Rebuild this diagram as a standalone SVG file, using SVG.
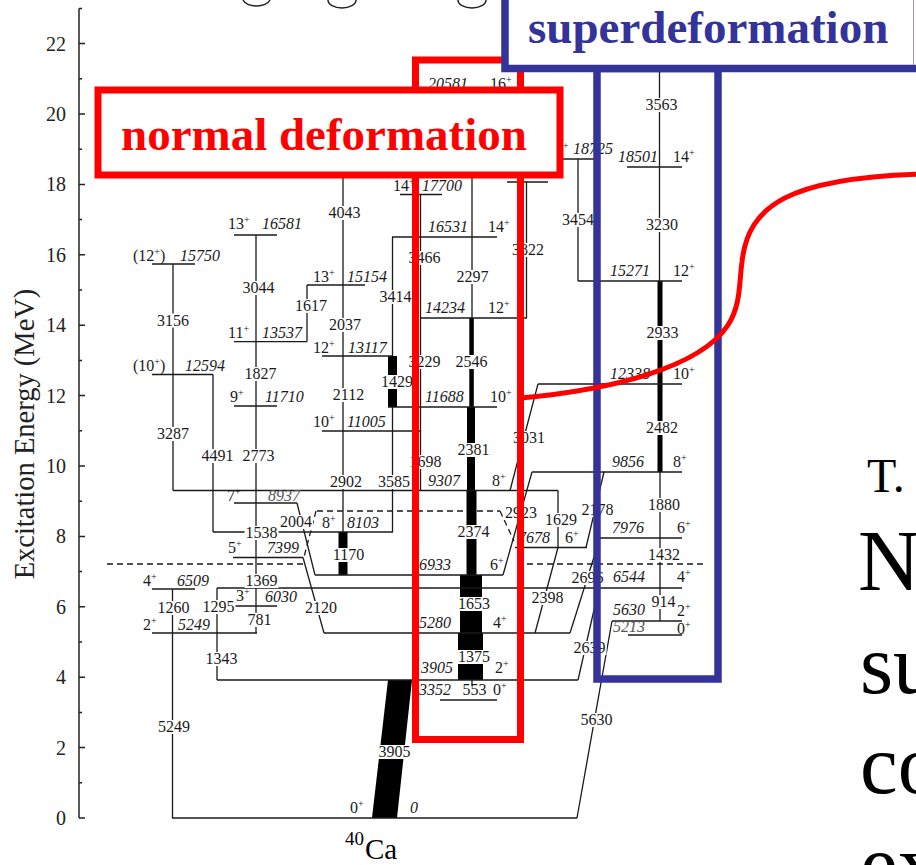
<svg xmlns="http://www.w3.org/2000/svg" width="916" height="865" viewBox="0 0 916 865">
<style>
.ax{stroke:#222;stroke-width:1.5;fill:none}
.lv{stroke:#1a1a1a;stroke-width:1.3;fill:none}
.tr{stroke:#1a1a1a;stroke-width:1.3;fill:none}
.da{stroke:#1a1a1a;stroke-width:1.3;fill:none;stroke-dasharray:6 4}
.bar{fill:#000}
.t{font-family:"Liberation Serif","Times New Roman",serif;font-size:16px;fill:#1a1a1a}
.i{font-style:italic}
.g{fill:#555}
.m{text-anchor:middle}
.p{font-size:10px}
.bg{fill:#fff}
.tk{font-family:"Liberation Serif","Times New Roman",serif;font-size:20px;fill:#222;text-anchor:end}
.big{font-family:"Liberation Serif","Times New Roman",serif;fill:#000}
</style>
<rect width="916" height="865" fill="#fff"/>

<!-- partial circles at top edge -->
<g id="top-shapes" class="ax">
<path d="M243,0 A14,8 0 0 0 270,0"/>
<path d="M328,0 A14,8 0 0 0 356,0"/>
<path d="M458,0 A14,8 0 0 0 486,0"/>
</g>

<!-- axis -->
<g id="axis">
<line class="ax" x1="79" y1="8.4" x2="79" y2="818"/>
<path class="ax" d="M79,818H85M79,782.8H82M79,747.6H85M79,712.4H82M79,677.2H85M79,642H82M79,606.8H85M79,571.6H82M79,536.4H85M79,501.2H82M79,466H85M79,430.8H82M79,395.6H85M79,360.4H82M79,325.2H85M79,290H82M79,254.8H85M79,219.6H82M79,184.4H85M79,149.2H82M79,114H85M79,78.8H82M79,43.6H85M79,8.4H82"/>
<text class="tk" x="66" y="825">0</text>
<text class="tk" x="66" y="754.6">2</text>
<text class="tk" x="66" y="684.2">4</text>
<text class="tk" x="66" y="613.8">6</text>
<text class="tk" x="66" y="543.4">8</text>
<text class="tk" x="66" y="473">10</text>
<text class="tk" x="66" y="402.6">12</text>
<text class="tk" x="66" y="332.2">14</text>
<text class="tk" x="66" y="261.8">16</text>
<text class="tk" x="66" y="191.4">18</text>
<text class="tk" x="66" y="121">20</text>
<text class="tk" x="66" y="50.6">22</text>
<text transform="translate(34,434) rotate(-90)" text-anchor="middle" font-family="Liberation Serif, Times New Roman, serif" font-size="28.5" fill="#222">Excitation Energy (MeV)</text>
</g>

<!-- dashed guide lines -->
<g id="guides">
<line class="da" x1="107" y1="564" x2="305" y2="564"/>
<line class="da" x1="527" y1="564" x2="705" y2="564"/>
<line class="da" x1="317" y1="511" x2="500" y2="511"/>
</g>

<!-- transitions -->
<g id="connectors">
<line class="tr" x1="173" y1="264" x2="173" y2="490.5"/>
<line class="tr" x1="213" y1="374.5" x2="213" y2="532"/>
<line class="tr" x1="256" y1="235" x2="256" y2="633"/>
<line class="tr" x1="307" y1="285" x2="307" y2="341.7"/>
<line class="tr" x1="343" y1="170" x2="343" y2="285"/>
<line class="tr" x1="343" y1="285" x2="343" y2="356" stroke-width="3"/>
<line class="tr" x1="343" y1="356" x2="343" y2="431"/>
<line class="tr" x1="343" y1="431" x2="343" y2="532" stroke-width="3.5"/>
<rect class="bar" x="338.5" y="532" width="9" height="43"/>
<line class="tr" x1="392.5" y1="237" x2="392.5" y2="356" stroke-width="3"/>
<rect class="bar" x="388" y="356" width="9" height="51"/>
<line class="tr" x1="392.5" y1="407" x2="392.5" y2="532" stroke-width="3"/>
<line class="tr" x1="420.5" y1="194.5" x2="420.5" y2="490.5"/>
<line class="tr" x1="472" y1="94" x2="472" y2="318"/>
<rect class="bar" x="469.3" y="318" width="4.5" height="89"/>
<rect class="bar" x="467" y="407" width="8" height="84"/>
<rect class="bar" x="466.5" y="490.5" width="10" height="84.5"/>
<rect class="bar" x="460" y="575" width="22" height="58"/>
<rect class="bar" x="458" y="633" width="25" height="47"/>
<line class="tr" x1="472" y1="680" x2="472" y2="686"/>
<line class="tr" x1="526.5" y1="182" x2="526.5" y2="318" stroke-width="1.5"/>
<line class="tr" x1="578" y1="159" x2="578" y2="281" stroke-width="2.2"/>
<line class="tr" x1="659.5" y1="72" x2="659.5" y2="281"/>
<rect class="bar" x="657.5" y="281" width="5" height="191"/>
<line class="tr" x1="660" y1="472" x2="660" y2="621"/>
<line class="tr" x1="172.5" y1="589" x2="172.5" y2="818"/>
<line class="tr" x1="217" y1="588" x2="217" y2="680"/>
<line class="tr" x1="558" y1="490.5" x2="558" y2="547.5"/>
<line class="tr" x1="297" y1="503" x2="315" y2="575"/>
<line class="tr" x1="303" y1="557.5" x2="324" y2="633"/>
<line class="tr" x1="538" y1="384" x2="510" y2="490.5"/>
<line class="tr" x1="532" y1="472" x2="503" y2="575"/>
<line class="tr" x1="604" y1="472" x2="586" y2="547.5"/>
<line class="tr" x1="558" y1="547.5" x2="535" y2="633" stroke-width="3"/>
<line class="tr" x1="600" y1="538" x2="570" y2="633"/>
<line class="tr" x1="599" y1="588" x2="578" y2="680"/>
<line class="tr" x1="612" y1="621" x2="577" y2="818"/>
<polygon class="bar" points="388,680 412,680 397,818 372,818"/>
<line class="da" x1="316" y1="511" x2="304" y2="557"/>
<line class="da" x1="500" y1="511" x2="514" y2="541"/>
</g>

<!-- levels -->
<g id="L15750"><line class="lv" x1="152" y1="264" x2="195" y2="264"/><text class="t" x="133" y="261">(12<tspan class="p" dy="-6">+</tspan><tspan dy="6">)</tspan></text><text class="t i" x="180" y="261">15750</text></g>
<g id="L16581"><line class="lv" x1="234" y1="235" x2="277" y2="235"/><text class="t" x="228" y="229">13<tspan class="p" dy="-6">+</tspan></text><text class="t i" x="262" y="229">16581</text></g>
<g id="L15154"><line class="lv" x1="307" y1="285" x2="365" y2="285"/><text class="t" x="313" y="282">13<tspan class="p" dy="-6">+</tspan></text><text class="t i" x="347" y="282">15154</text></g>
<g id="L13537"><line class="lv" x1="234" y1="341.7" x2="307" y2="341.7"/><text class="t" x="228" y="338">11<tspan class="p" dy="-6">+</tspan></text><text class="t i" x="262" y="338">13537</text></g>
<g id="L13117"><line class="lv" x1="322" y1="356" x2="392.5" y2="356"/><text class="t" x="313" y="353">12<tspan class="p" dy="-6">+</tspan></text><text class="t i" x="348" y="353">13117</text></g>
<g id="L12594"><line class="lv" x1="152" y1="374.5" x2="213" y2="374.5"/><text class="t" x="133" y="371">(10<tspan class="p" dy="-6">+</tspan><tspan dy="6">)</tspan></text><text class="t i" x="185" y="371">12594</text></g>
<g id="L11710"><line class="lv" x1="234" y1="406" x2="277" y2="406"/><text class="t" x="230" y="402">9<tspan class="p" dy="-6">+</tspan></text><text class="t i" x="265" y="402">11710</text></g>
<g id="L11005"><line class="lv" x1="322" y1="431" x2="420.5" y2="431"/><text class="t" x="313" y="427">10<tspan class="p" dy="-6">+</tspan></text><text class="t i" x="347" y="427">11005</text></g>
<g id="L9307"><line class="lv" x1="173" y1="490.5" x2="558" y2="490.5"/><text class="t i" x="428" y="486">9307</text><text class="t" x="492" y="486">8<tspan class="p" dy="-6">+</tspan></text></g>
<g id="L8937"><line class="lv" x1="234" y1="503" x2="297" y2="503"/><text class="t" x="227" y="501">7<tspan class="p" dy="-6">+</tspan></text><text class="t i g" x="268" y="501">8937</text></g>
<g id="L8103"><line class="lv" x1="213" y1="532" x2="393" y2="532"/><text class="t" x="322" y="528">8<tspan class="p" dy="-6">+</tspan></text><text class="t i" x="347" y="528">8103</text></g>
<g id="L7399"><line class="lv" x1="233" y1="557.5" x2="303" y2="557.5"/><text class="t" x="228" y="553">5<tspan class="p" dy="-6">+</tspan></text><text class="t i" x="267" y="553">7399</text></g>
<g id="L6933"><line class="lv" x1="315" y1="575" x2="503" y2="575"/><text class="t i" x="419" y="570">6933</text><text class="t" x="490" y="570">6<tspan class="p" dy="-6">+</tspan></text></g>
<g id="L6509"><line class="lv" x1="152" y1="589" x2="195" y2="589"/><text class="t" x="143" y="586">4<tspan class="p" dy="-6">+</tspan></text><text class="t i" x="177" y="586">6509</text></g>
<g id="L6544"><line class="lv" x1="217" y1="588" x2="682" y2="588"/><text class="t i" x="613" y="582">6544</text><text class="t" x="677" y="582">4<tspan class="p" dy="-6">+</tspan></text></g>
<g id="L6030"><line class="lv" x1="235" y1="606" x2="277" y2="606"/><text class="t" x="236" y="601">3<tspan class="p" dy="-6">+</tspan></text><text class="t i" x="265" y="602">6030</text></g>
<g id="L5249"><line class="lv" x1="152" y1="633" x2="257" y2="633"/><text class="t" x="143" y="630">2<tspan class="p" dy="-6">+</tspan></text><text class="t i" x="178" y="630">5249</text></g>
<g id="L5280"><line class="lv" x1="324" y1="633" x2="570" y2="633"/><text class="t i" x="419" y="628">5280</text><text class="t" x="493" y="628">4<tspan class="p" dy="-6">+</tspan></text></g>
<g id="L3905"><line class="lv" x1="217" y1="680" x2="578" y2="680"/><text class="t i" x="421" y="673">3905</text><text class="t" x="495" y="673">2<tspan class="p" dy="-6">+</tspan></text></g>
<g id="L3352"><line class="lv" x1="440" y1="700" x2="497" y2="700"/><text class="t i" x="419" y="695">3352</text><text class="t" x="493" y="695">0<tspan class="p" dy="-6">+</tspan></text></g>
<g id="L0"><line class="lv" x1="172" y1="818" x2="577" y2="818"/><text class="t" x="350" y="813">0<tspan class="p" dy="-6">+</tspan></text><text class="t i" x="410" y="813">0</text></g>
<g id="L20581"><text class="t i" x="428" y="89">20581</text><text class="t" x="490" y="89">16<tspan class="p" dy="-6">+</tspan></text></g>
<g id="L17700"><line class="lv" x1="400" y1="194.5" x2="442" y2="194.5"/><text class="t" x="393" y="191">14<tspan class="p" dy="-6">+</tspan></text><text class="t i" x="422" y="191">17700</text></g>
<g id="L16531"><line class="lv" x1="392" y1="237" x2="497" y2="237"/><text class="t i" x="428" y="232">16531</text><text class="t" x="488" y="232">14<tspan class="p" dy="-6">+</tspan></text></g>
<g id="L14234"><line class="lv" x1="420.5" y1="318" x2="527" y2="318"/><text class="t i" x="425" y="313">14234</text><text class="t" x="488" y="313">12<tspan class="p" dy="-6">+</tspan></text></g>
<g id="L11688"><line class="lv" x1="388" y1="407" x2="497" y2="407"/><text class="t i" x="425" y="402">11688</text><text class="t" x="490" y="402">10<tspan class="p" dy="-6">+</tspan></text></g>
<g id="L18056"><line class="lv" x1="507" y1="182" x2="548" y2="182"/></g>
<g id="L18725"><line class="lv" x1="555" y1="159" x2="598" y2="159"/><text class="t p" x="563" y="149">+</text><text class="t i" x="573" y="154">18725</text></g>
<g id="L7678"><line class="lv" x1="515" y1="547.5" x2="587" y2="547.5"/><text class="t i" x="518" y="543">7678</text><text class="t" x="565" y="543">6<tspan class="p" dy="-6">+</tspan></text></g>
<g id="L18501"><line class="lv" x1="627" y1="167" x2="682" y2="167"/><text class="t i" x="618" y="162">18501</text><text class="t" x="673" y="162">14<tspan class="p" dy="-6">+</tspan></text></g>
<g id="L15271"><line class="lv" x1="578" y1="281" x2="682" y2="281"/><text class="t i" x="610" y="276">15271</text><text class="t" x="673" y="276">12<tspan class="p" dy="-6">+</tspan></text></g>
<g id="L12338"><line class="lv" x1="538" y1="384" x2="682" y2="384"/><text class="t i" x="610" y="379">12338</text><text class="t" x="673" y="379">10<tspan class="p" dy="-6">+</tspan></text></g>
<g id="L9856"><line class="lv" x1="532" y1="472" x2="682" y2="472"/><text class="t i" x="612" y="467">9856</text><text class="t" x="673" y="467">8<tspan class="p" dy="-6">+</tspan></text></g>
<g id="L7976"><line class="lv" x1="600" y1="538" x2="682" y2="538"/><text class="t i" x="612" y="533">7976</text><text class="t" x="677" y="533">6<tspan class="p" dy="-6">+</tspan></text></g>
<g id="L5630"><line class="lv" x1="612" y1="621" x2="682" y2="621"/><text class="t i" x="613" y="615">5630</text><text class="t" x="677" y="616">2<tspan class="p" dy="-6">+</tspan></text></g>
<g id="L5213"><line class="lv" x1="628" y1="635" x2="682" y2="635"/><text class="t i g" x="613" y="632">5213</text><text class="t" x="677" y="633.5">0<tspan class="p" dy="-6">+</tspan></text></g>

<!-- transition labels -->
<g id="transition-labels">
<g class="bg">
<rect x="156" y="313.5" width="34" height="14"/><rect x="156" y="427" width="34" height="14"/>
<rect x="200.5" y="449" width="34" height="14"/><rect x="241.5" y="449" width="34" height="14"/>
<rect x="243.5" y="367" width="34" height="14"/><rect x="241.5" y="281" width="34" height="14"/>
<rect x="294" y="299" width="34" height="14"/><rect x="244.5" y="526" width="34" height="14"/>
<rect x="244.5" y="574" width="34" height="14"/><rect x="246.5" y="613" width="26" height="14"/>
<rect x="201.5" y="600" width="34" height="14"/><rect x="156.5" y="601" width="34" height="14"/>
<rect x="204.5" y="652" width="34" height="14"/><rect x="157" y="720" width="34" height="14"/>
<rect x="304" y="601" width="34" height="14"/><rect x="279" y="515" width="34" height="14"/>
<rect x="327.5" y="206" width="34" height="14"/><rect x="328" y="318" width="34" height="14"/>
<rect x="331.5" y="388" width="34" height="14"/><rect x="329" y="475" width="34" height="14"/>
<rect x="331.5" y="548" width="34" height="14"/><rect x="378.5" y="290" width="34" height="14"/>
<rect x="380" y="375" width="34" height="14"/><rect x="377" y="475" width="34" height="14"/>
<rect x="407.5" y="251" width="34" height="14"/><rect x="407.5" y="355" width="34" height="14"/>
<rect x="408.5" y="455" width="34" height="14"/><rect x="455.5" y="270" width="34" height="14"/>
<rect x="454.5" y="355" width="34" height="14"/><rect x="456.5" y="443" width="34" height="14"/>
<rect x="456.5" y="525" width="34" height="14"/><rect x="457" y="597" width="34" height="14"/>
<rect x="457" y="650" width="34" height="14"/><rect x="377.5" y="745" width="34" height="14"/>
<rect x="511" y="243" width="34" height="14"/><rect x="561" y="213" width="34" height="14"/>
<rect x="512" y="431" width="34" height="14"/><rect x="504" y="506" width="34" height="14"/>
<rect x="544" y="513" width="34" height="14"/><rect x="580.5" y="503" width="34" height="14"/>
<rect x="530.5" y="591" width="34" height="14"/><rect x="570.5" y="571" width="34" height="14"/>
<rect x="572.5" y="641" width="34" height="14"/><rect x="579.5" y="713" width="34" height="14"/>
<rect x="644.5" y="98" width="34" height="14"/><rect x="645" y="218" width="34" height="14"/>
<rect x="645.5" y="326" width="34" height="14"/><rect x="645" y="421" width="34" height="14"/>
<rect x="647" y="498" width="34" height="14"/><rect x="647" y="548" width="34" height="14"/>
<rect x="650.5" y="595" width="26" height="14"/>
</g>
<g class="t m">
<text x="173" y="325.5">3156</text><text x="173" y="439">3287</text>
<text x="217.5" y="461">4491</text><text x="258.5" y="461">2773</text>
<text x="260.5" y="379">1827</text><text x="258.5" y="293">3044</text>
<text x="311" y="311">1617</text><text x="261.5" y="538">1538</text>
<text x="261.5" y="586">1369</text><text x="259.5" y="625">781</text>
<text x="218.5" y="612">1295</text><text x="173.5" y="613">1260</text>
<text x="221.5" y="664">1343</text><text x="174" y="732">5249</text>
<text x="321" y="613">2120</text><text x="296" y="527">2004</text>
<text x="344.5" y="218">4043</text><text x="345" y="330">2037</text>
<text x="348.5" y="400">2112</text><text x="346" y="487">2902</text>
<text x="348.5" y="560">1170</text><text x="395.5" y="302">3414</text>
<text x="397" y="387">1429</text><text x="394" y="487">3585</text>
<text x="424.5" y="263">3466</text><text x="424.5" y="367">3229</text>
<text x="425.5" y="467">1698</text><text x="472.5" y="282">2297</text>
<text x="471.5" y="367">2546</text><text x="473.5" y="455">2381</text>
<text x="473.5" y="537">2374</text><text x="474" y="609">1653</text>
<text x="474" y="662">1375</text><text x="474.5" y="695">553</text>
<text x="394.5" y="757">3905</text><text x="528" y="255">3822</text>
<text x="578" y="225">3454</text><text x="529" y="443">3031</text>
<text x="521" y="518">2923</text><text x="561" y="525">1629</text>
<text x="597.5" y="515">2178</text><text x="547.5" y="603">2398</text>
<text x="587.5" y="583">2696</text><text x="589.5" y="653">2639</text>
<text x="596.5" y="725">5630</text><text x="661.5" y="110">3563</text>
<text x="662" y="230">3230</text><text x="662.5" y="338">2933</text>
<text x="662" y="433">2482</text><text x="664" y="510">1880</text>
<text x="664" y="560">1432</text><text x="663.5" y="607">914</text>
</g>
</g>

<!-- nucleus label -->
<g id="nucleus">
<text class="big" x="345" y="845" font-size="19">40</text>
<text class="big" x="365" y="859" font-size="29">Ca</text>
</g>

<!-- normal deformation band -->
<g id="normal-band">
<rect x="415.5" y="60" width="105" height="679.5" fill="none" stroke="#ff0000" stroke-width="7"/>
</g>
<g id="normal-label">
<rect x="98" y="90" width="462" height="85" fill="#fff" stroke="#ff0000" stroke-width="7"/>
<text x="121" y="150" font-family="Liberation Serif, Times New Roman, serif" font-weight="bold" font-size="47" fill="#ff0000">normal deformation</text>
</g>

<!-- superdeformation band -->
<g id="super-band">
<rect x="597" y="68.5" width="121" height="610.5" fill="none" stroke="#333399" stroke-width="7.5"/>
</g>
<g id="super-label">
<rect x="505" y="-10" width="420" height="78.5" fill="#fff" stroke="#333399" stroke-width="7.5"/>
<line x1="913.5" y1="0" x2="913.5" y2="65" stroke="#9a9acc" stroke-width="1"/>
<text x="528" y="43" font-family="Liberation Serif, Times New Roman, serif" font-weight="bold" font-size="47" fill="#333399">superdeformation</text>
</g>

<!-- red callout curve -->
<g id="callout">
<path d="M521,398 C610,390 700,368 728,325 C741,305 739,283 742,262 C748,205 790,178 920,174" fill="none" stroke="#ff0000" stroke-width="5"/>
</g>

<!-- side text (cut off at the right edge, as in the reference) -->
<g id="side-text">
<text class="big" x="867" y="492" font-size="48">T.</text>
<text class="big" x="858" y="590" font-size="86">N</text>
<text class="big" x="860" y="693" font-size="85">su</text>
<text class="big" x="860" y="793" font-size="85">co</text>
<text class="big" x="860" y="893" font-size="85">ex</text>
</g>
</svg>
